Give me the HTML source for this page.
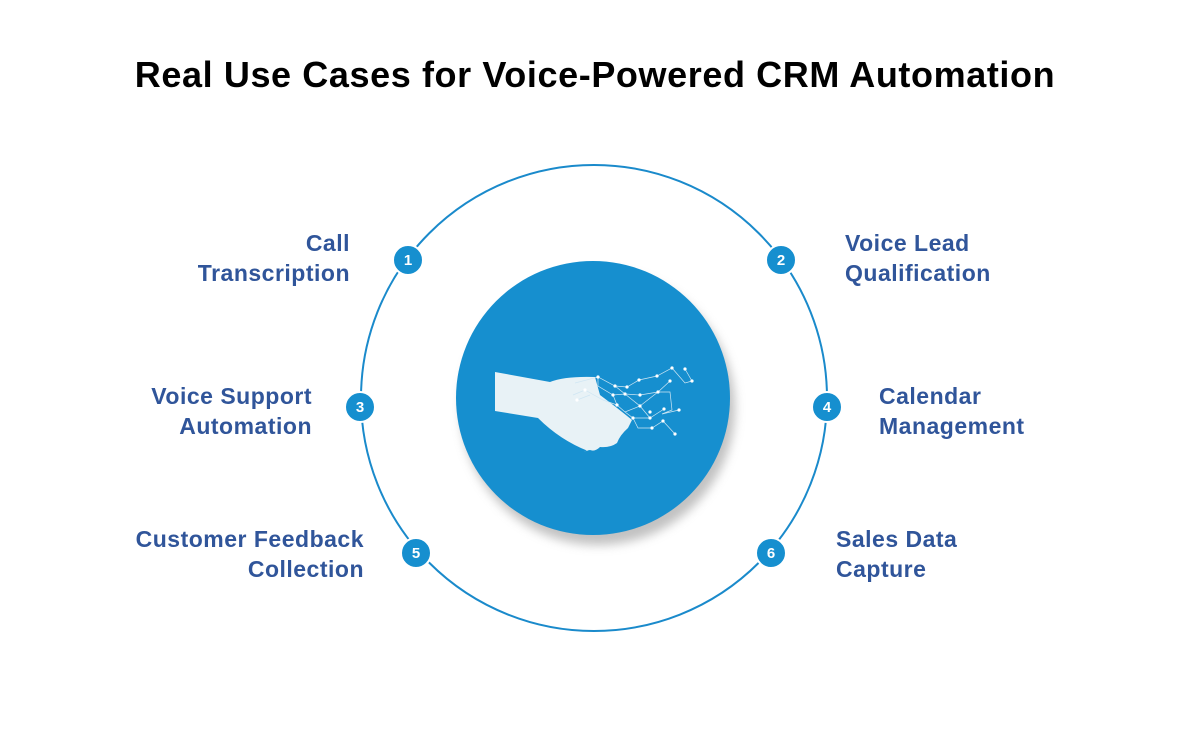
<!DOCTYPE html>
<html><head><style>
body{margin:0;width:1190px;height:741px;background:#fff;position:relative;overflow:hidden;font-family:"Liberation Sans",sans-serif}
h1{position:absolute;top:54px;left:0;width:1190px;text-align:center;margin:0;font-size:36px;font-weight:bold;color:#000;letter-spacing:0.6px}
.l{position:absolute;font-size:23px;font-weight:bold;color:#30559a;line-height:30px;white-space:nowrap;letter-spacing:0.5px}
.r{text-align:right}
</style></head><body>
<h1>Real Use Cases for Voice-Powered CRM Automation</h1>
<svg width="1190" height="741" style="position:absolute;left:0;top:0">
<defs><filter id="s" x="-30%" y="-30%" width="160%" height="160%"><feGaussianBlur stdDeviation="5"/></filter></defs>
<circle cx="594" cy="398" r="233" fill="none" stroke="#1a8acb" stroke-width="2"/>
<circle cx="598" cy="408" r="137" fill="#999" opacity="0.6" filter="url(#s)"/>
<circle cx="593" cy="398" r="137" fill="#168fcf"/>
<path d="M495 372 L550 382 Q565 376 595 377 L600 395 Q620 410 632 420 L628 428 Q620 435 617 443 Q610 448 600 447 Q595 452 590 450 Q580 452 586 451 L588 451 Q560 440 538 418 L495 411 Z" fill="#e8f2f6"/>
<g stroke="#cfe6f3" stroke-width="0.7" fill="none">
<path d="M575 383 L598 377 L615 386 L627 387 L639 380 L657 376 L672 368 L685 383 L692 381 L685 369 M598 377 L598 386 L613 395 L625 394 L640 395 L658 392 L670 381 M613 395 L617 405 L625 412 L640 406 L658 392 L670 392 L672 410 L662 414 L679 410 M617 405 L603 400 L585 390 L573 395 M625 412 L633 418 L650 418 L664 409 M633 418 L638 428 L652 428 L663 421 L675 434 M640 406 L650 418 M615 386 L640 406 M590 395 L577 400"/>
</g>
<g fill="#fff">
<circle cx="598" cy="377" r="1.6"/><circle cx="615" cy="386" r="1.6"/><circle cx="627" cy="387" r="1.6"/><circle cx="639" cy="380" r="1.6"/><circle cx="657" cy="376" r="1.6"/><circle cx="672" cy="368" r="1.6"/><circle cx="685" cy="369" r="1.6"/><circle cx="692" cy="381" r="1.6"/><circle cx="670" cy="381" r="1.6"/><circle cx="613" cy="395" r="1.6"/><circle cx="625" cy="394" r="1.6"/><circle cx="640" cy="395" r="1.6"/><circle cx="658" cy="392" r="1.6"/><circle cx="617" cy="405" r="1.6"/><circle cx="640" cy="406" r="1.6"/><circle cx="650" cy="418" r="1.6"/><circle cx="664" cy="409" r="1.6"/><circle cx="679" cy="410" r="1.6"/><circle cx="633" cy="418" r="1.6"/><circle cx="652" cy="428" r="1.6"/><circle cx="675" cy="434" r="1.6"/><circle cx="585" cy="390" r="1.6"/><circle cx="577" cy="400" r="1.6"/><circle cx="650" cy="412" r="1.6"/><circle cx="663" cy="421" r="1.6"/>
</g>
<g fill="#168fcf" stroke="#fff" stroke-width="2">
<circle cx="408" cy="260" r="15"/><circle cx="781" cy="260" r="15"/><circle cx="360" cy="407" r="15"/><circle cx="827" cy="407" r="15"/><circle cx="416" cy="553" r="15"/><circle cx="771" cy="553" r="15"/>
</g>
<g fill="#fff" font-family="Liberation Sans" font-weight="bold" font-size="15" text-anchor="middle">
<text x="408" y="265">1</text><text x="781" y="265">2</text><text x="360" y="412">3</text><text x="827" y="412">4</text><text x="416" y="558">5</text><text x="771" y="558">6</text>
</g>
</svg>
<div class="l r" style="right:840px;top:228px">Call<br>Transcription</div>
<div class="l" style="left:845px;top:228px">Voice Lead<br>Qualification</div>
<div class="l r" style="right:878px;top:381px">Voice Support<br>Automation</div>
<div class="l" style="left:879px;top:381px">Calendar<br>Management</div>
<div class="l r" style="right:826px;top:524px">Customer Feedback<br>Collection</div>
<div class="l" style="left:836px;top:524px">Sales Data<br>Capture</div>
</body></html>
